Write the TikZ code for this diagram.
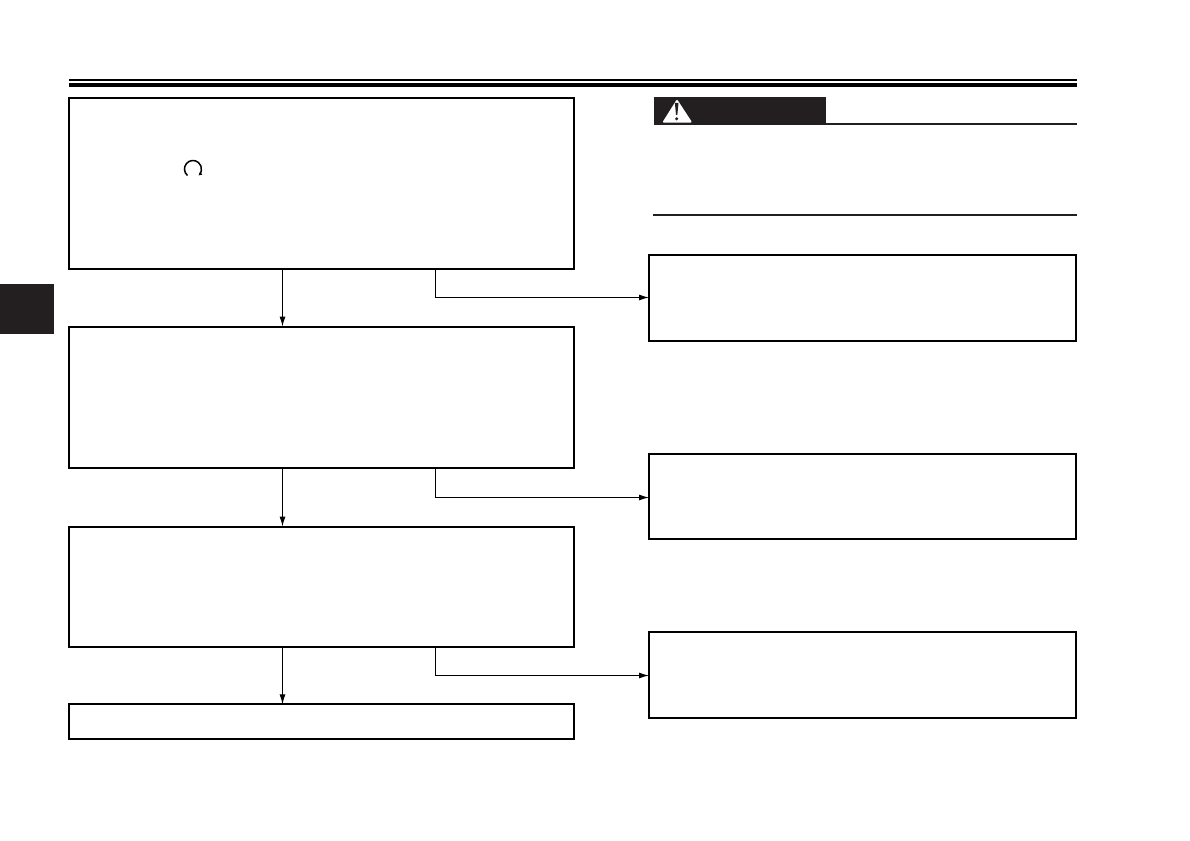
\documentclass[tikz,border=0pt]{standalone}
\usepackage{tikz}
\usetikzlibrary{arrows,arrows.meta}
\definecolor{inkblack}{HTML}{231F20}

\tikzset{
    flowbox/.style={rectangle, draw=black, line width=2pt, outer sep=0pt, inner sep=0pt, fill=white, anchor=north west},
    inkbar/.style={rectangle, draw=none, fill=inkblack, outer sep=0pt, inner sep=0pt, anchor=north west},
    flowline/.style={line width=1pt, -{Latex[length=10pt, width=6pt]}}
}

\begin{document}
\begin{tikzpicture}[x=1pt, y=-1pt, every node/.style={} ]

            \useasboundingbox (0,0) rectangle (1190,840);

            % header rules
            \fill[black] (69,79.3) rectangle (1077,81);
            \fill[black] (69,83) rectangle (1077,87);

            % side tab
            \node[inkbar, minimum width=54pt, minimum height=50pt] (tab) at (0,284) {};

            % left column
            \node[flowbox, minimum width=505pt, minimum height=171pt] (chk1) at (69,98) {};
            \node[flowbox, minimum width=505pt, minimum height=141.5pt] (chk2) at (69,326.5) {};
            \node[flowbox, minimum width=505pt, minimum height=120.5pt] (chk3) at (69,526.5) {};
            \node[flowbox, minimum width=505pt, minimum height=35pt] (chk4) at (69,704.3) {};

            % right column
            \node[flowbox, minimum width=427pt, minimum height=86pt] (fix1) at (649,255) {};
            \node[flowbox, minimum width=427pt, minimum height=85pt] (fix2) at (649,454) {};
            \node[flowbox, minimum width=427pt, minimum height=86pt] (fix3) at (649,632) {};

            \coordinate (down) at (282.5,0);
            \coordinate (side) at (435.5,0);

            \foreach \a/\b/\c/\ypos in {chk1/chk2/fix1/297.5,chk2/chk3/fix2/497.5,chk3/chk4/fix3/675.5} {
                \coordinate (entry) at (0,\ypos);
                \draw[flowline] (\a.south -| down) -- (\b.north -| down);
                \draw[flowline] (\a.south -| side) |- (\c.west |- entry);
            }

            % turn symbol
            \draw[line width=1.5pt, -{Latex[length=3.5pt, width=4pt]}] (187.5,175.5) arc[start angle=230, end angle=-50, radius=8.5pt];

            % warning block
            \node[inkbar, minimum width=172pt, minimum height=27.5pt] (warn) at (654,97) {};
            \fill[white, draw=white, line width=2pt, line join=round] (677,101) -- (690.5,121.7) -- (664,121.7) -- cycle;
            \fill[inkblack] (674.9,103) -- (678.5,103) -- (677.3,115) -- (676,115) -- cycle;
            \fill[inkblack] (676.7,118.8) circle[radius=1.7pt];
            \draw[inkblack, line width=1.7pt] (warn.south east |- 0,123.8) -- (1077,123.8);
            \draw[inkblack, line width=2pt] (653,215) -- (1077,215);

        \end{tikzpicture}
\end{document}
